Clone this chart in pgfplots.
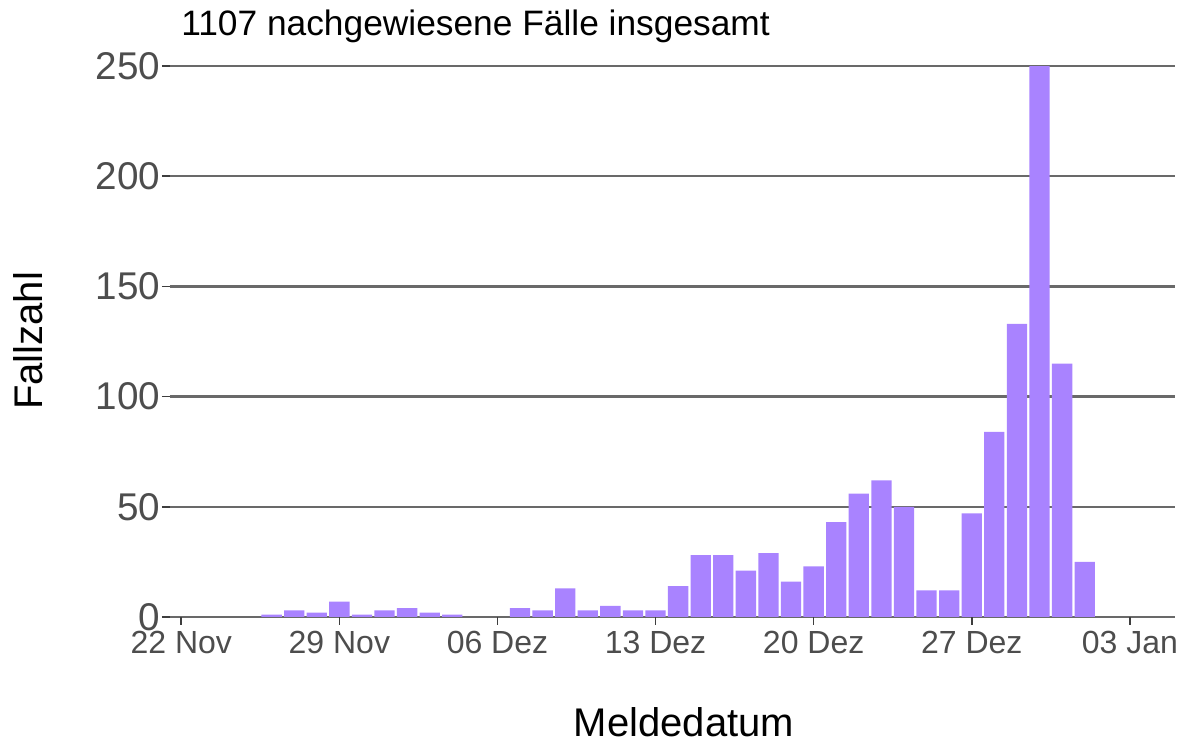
\documentclass[border=0pt]{standalone}
\usepackage{pgfplots}
\pgfplotsset{compat=1.18}
\usetikzlibrary{calc}
\usepackage{fontspec}
\setmainfont{Liberation Sans}
\definecolor{barc}{RGB}{169,131,255}
\definecolor{gridc}{RGB}{105,105,105}
\definecolor{tickc}{RGB}{77,77,77}
\begin{document}
\begin{tikzpicture}
\begin{axis}[
  name=ax,
  scale only axis,
  width=753.75pt, height=433pt,
  xmin=-0.5, xmax=44, ymin=0, ymax=262,
  axis line style={draw=none},
  xtick={0,7,14,21,28,35,42},
  xticklabels={22 Nov,29 Nov,06 Dez,13 Dez,20 Dez,27 Dez,03 Jan},
  ytick={0,50,100,150,200,250},
  xtick pos=bottom, ytick pos=left,
  tick align=outside,
  major tick length=6pt,
  x tick style={draw=tickc!80!black, line width=1.2pt},
  y tick style={draw=tickc!80!black, line width=1.2pt},
  ymajorgrids,
  major grid style={draw=gridc, line width=1.7pt},
  /pgf/number format/assume math mode=true,
  xticklabel style={font=\fontsize{24}{28}\selectfont, text=tickc, anchor=north, inner sep=0pt, yshift=-4.5pt},
  yticklabel style={font=\fontsize{29}{34}\selectfont, text=tickc, anchor=east, inner sep=0pt, xshift=-1pt},
  clip=false,
]
\addplot[ybar, bar width=0.9, fill=barc, draw=none] coordinates {
(4,1) (5,3) (6,2) (7,7) (8,1) (9,3) (10,4) (11,2) (12,1)
(15,4) (16,3) (17,13) (18,3) (19,5) (20,3) (21,3) (22,14)
(23,28) (24,28) (25,21) (26,29) (27,16) (28,23) (29,43) (30,56)
(31,62) (32,50) (33,12) (34,12) (35,47) (36,84) (37,133) (38,250)
(39,115) (40,25)
};
\end{axis}
\node[anchor=base west, inner sep=0pt, font=\fontsize{26.5}{30}\selectfont] at ($(ax.north west)+(8.25pt,2.7pt)$) {1107 nachgewiesene Fälle insgesamt};
\node[anchor=base, rotate=90, inner sep=0pt, font=\fontsize{30}{34}\selectfont] at ($(ax.south west)+(-95.25pt,207pt)$) {Fallzahl};
\node[anchor=base, inner sep=0pt, font=\fontsize{30}{34}\selectfont] at ($(ax.south west)+(385.5pt,-89.5pt)$) {Meldedatum};
\path[use as bounding box] ($(ax.south west)+(-127.5pt,-95.25pt)$) rectangle ($(ax.north east)+(6.75pt,29.7pt)$);
\end{tikzpicture}
\end{document}
